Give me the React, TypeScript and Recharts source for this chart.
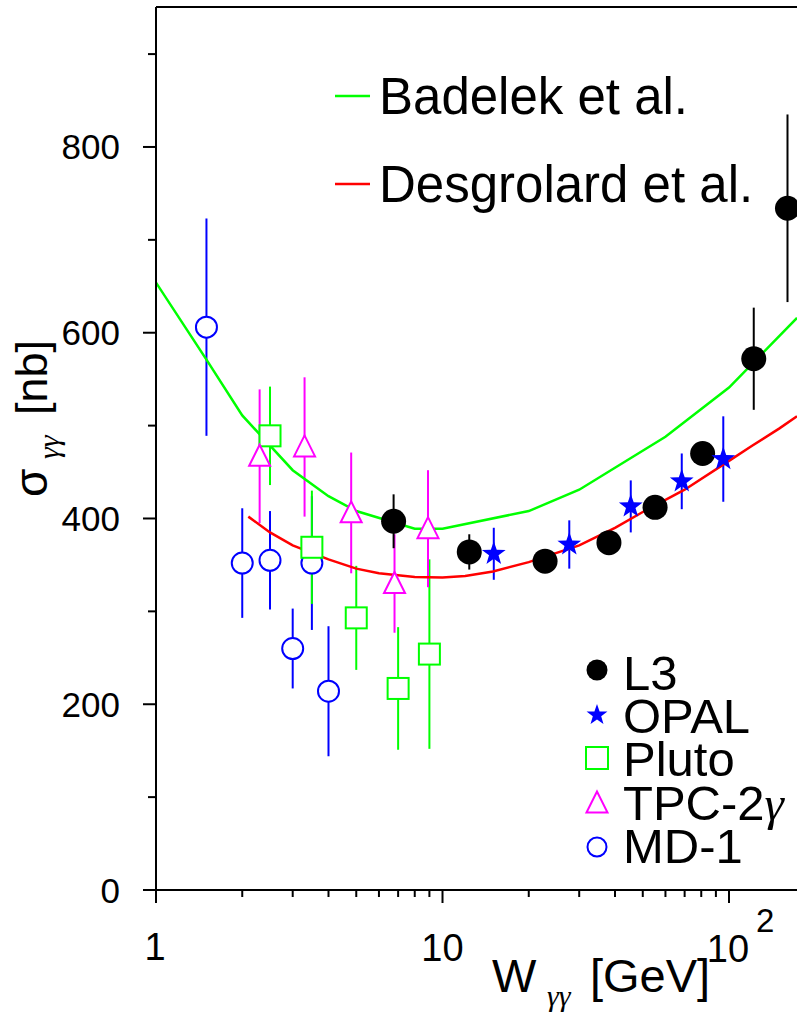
import React from 'react';
import { ComposedChart, Scatter, Line, XAxis, YAxis, ErrorBar, ReferenceLine, Customized } from 'recharts';

// W_gg [GeV], sigma_gg [nb], symmetric errors [nb]
const md1W = [1.5, 2.0, 2.5, 3.0, 3.5, 4.0];
const md1Sigma = [606, 352, 355, 260, 352, 214];
const md1Err = [117, 59, 53, 43, 72, 70];

const plutoW = [2.5, 3.5, 5.0, 7.0, 9.0];
const plutoSigma = [489, 369, 293, 217, 254];
const plutoErr = [53, 61, 56, 66, 102];

const tpcW = [2.3, 3.3, 4.8, 6.8, 8.9];
const tpcSigma = [467, 477, 406, 330, 389];
const tpcErr = [72, 75, 65, 53, 63];

const l3W = [6.75, 12.4, 22.8, 38.1, 55.2, 80.9, 122, 160];
const l3Sigma = [397, 364, 354, 374, 412, 470, 572, 734];
const l3Err = [29, 19, 8, 8, 8, 8, 55, 101];

const opalW = [15.1, 27.7, 45.4, 68.4, 95.5];
const opalSigma = [362, 372, 413, 440, 464];
const opalErr = [28, 26, 28, 30, 46];

// model curves
const badelekW = [1, 1.5, 2, 3, 4, 5, 8, 10, 20, 30, 60, 100, 172.7];
const badelekSigma = [654, 571, 511, 452, 424, 408, 389, 389, 408, 431, 488, 541, 616];

const desgrolardW = [2.1, 2.5, 3, 4, 5, 6, 8, 10, 12, 15, 20, 30, 40, 50, 70, 100, 120, 150, 172.7];
const desgrolardSigma = [402, 385, 371, 356, 346, 341, 337, 336.5, 338, 343, 353, 371, 390, 407, 431, 462, 478, 497, 510];

const xTicks = [1, 2, 3, 4, 5, 6, 7, 8, 9, 10, 20, 30, 40, 50, 60, 70, 80, 90, 100];
const yTicks = [0, 100, 200, 300, 400, 500, 600, 700, 800, 900];
const X_MAX = 172.7;
const Y_MAX = 950.7;

const FONT = '"Liberation Sans", Arial, sans-serif';
const SERIF = '"Liberation Serif", "Times New Roman", serif';

const toPoints = (w: number[], s: number[], e?: number[]) =>
  w.map((x, i) => (e ? { x, y: s[i], err: e[i] } : { x, y: s[i] }));

const md1Data = toPoints(md1W, md1Sigma, md1Err);
const plutoData = toPoints(plutoW, plutoSigma, plutoErr);
const tpcData = toPoints(tpcW, tpcSigma, tpcErr);
const l3Data = toPoints(l3W, l3Sigma, l3Err);
const opalData = toPoints(opalW, opalSigma, opalErr);
const badelekData = toPoints(badelekW, badelekSigma);
const desgrolardData = toPoints(desgrolardW, desgrolardSigma);

const starPoints = (cx: number, cy: number, R: number, r: number) => {
  const pts: string[] = [];
  for (let i = 0; i < 10; i++) {
    const rad = i % 2 === 0 ? R : r;
    const a = -Math.PI / 2 + (i * Math.PI) / 5;
    pts.push(`${cx + rad * Math.cos(a)},${cy + rad * Math.sin(a)}`);
  }
  return pts.join(' ');
};

const triPoints = (cx: number, cy: number, s: number) =>
  `${cx},${cy - s * 0.55} ${cx - s / 2},${cy + s * 0.45} ${cx + s / 2},${cy + s * 0.45}`;

const OpenCircle = (props: any) => (
  <circle cx={props.cx} cy={props.cy} r={10.5} fill="#fff" stroke="#0000ff" strokeWidth={2} />
);
const OpenSquare = (props: any) => (
  <rect x={props.cx - 10.5} y={props.cy - 10.5} width={21} height={21} fill="#fff" stroke="#00ff00" strokeWidth={2} />
);
const OpenTriangle = (props: any) => (
  <polygon points={triPoints(props.cx, props.cy, 21)} fill="#fff" stroke="#ff00ff" strokeWidth={2} />
);
const FullCircle = (props: any) => <circle cx={props.cx} cy={props.cy} r={12.5} fill="#000" />;
const Star = (props: any) => <polygon points={starPoints(props.cx, props.cy, 12.5, 5)} fill="#0000ff" />;

const XTick = (props: any) => {
  const { x, y, payload } = props;
  const v = payload.value;
  const major = v === 1 || v === 10 || v === 100;
  return (
    <g>
      <line x1={x} x2={x} y1={y} y2={y + (major ? 13 : 7)} stroke="#000" strokeWidth={2} />
      {v === 1 && (
        <text x={x - 1} y={y + 70} textAnchor="middle" fontSize={38} fontFamily={FONT} fill="#000">1</text>
      )}
      {v === 10 && (
        <text x={x} y={y + 71} textAnchor="middle" fontSize={38} fontFamily={FONT} fill="#000">10</text>
      )}
      {v === 100 && (
        <g>
          <text x={x - 1} y={y + 72} textAnchor="middle" fontSize={38} fontFamily={FONT} fill="#000">10</text>
          <text x={x + 27} y={y + 42} fontSize={33} fontFamily={FONT} fill="#000">2</text>
        </g>
      )}
    </g>
  );
};

const YTick = (props: any) => {
  const { x, y, payload } = props;
  const v = payload.value;
  const major = v % 200 === 0;
  return (
    <g>
      <line x1={x - (major ? 13 : 8)} x2={x} y1={y} y2={y} stroke="#000" strokeWidth={2} />
      {major && (
        <text x={x - 36} y={y + 12.5} textAnchor="end" fontSize={35} fontFamily={FONT} fill="#000">{v}</text>
      )}
    </g>
  );
};

const Annotations = () => (
  <g fontFamily={FONT} fill="#000">
    {/* model legend */}
    <line x1={335} x2={370} y1={96} y2={96} stroke="#00ff00" strokeWidth={2.5} />
    <text x={379} y={114} fontSize={51}>Badelek et al.</text>
    <line x1={335} x2={370} y1={184} y2={184} stroke="#ff0000" strokeWidth={2.5} />
    <text x={379} y={202} fontSize={51}>Desgrolard et al.</text>

    {/* data legend */}
    <circle cx={597} cy={670} r={10.5} fill="#000" />
    <text x={623} y={690} fontSize={49}>L3</text>
    <polygon points={starPoints(597, 715, 11, 4.4)} fill="#0000ff" />
    <text x={623} y={733} fontSize={49}>OPAL</text>
    <rect x={586} y={747} width={22} height={22} fill="#fff" stroke="#00ff00" strokeWidth={2} />
    <text x={623} y={776} fontSize={49}>Pluto</text>
    <polygon points={triPoints(597, 803, 21)} fill="#fff" stroke="#ff00ff" strokeWidth={2} />
    <text x={623} y={820} fontSize={49}>
      TPC-2<tspan fontFamily={SERIF} fontStyle="italic">γ</tspan>
    </text>
    <circle cx={597} cy={847} r={9.5} fill="#fff" stroke="#0000ff" strokeWidth={2} />
    <text x={623} y={863} fontSize={49}>MD-1</text>

    {/* x axis title */}
    <text x={492} y={992} fontSize={47}>W</text>
    <text x={547} y={1006} fontSize={30} fontFamily={SERIF} fontStyle="italic">γγ</text>
    <text x={590} y={992} fontSize={47}>[GeV]</text>

    {/* y axis title */}
    <g transform="translate(47, 497) rotate(-90)">
      <text x={0} y={0} fontSize={46}>σ</text>
      <text x={38} y={12} fontSize={30} fontFamily={SERIF} fontStyle="italic">γγ</text>
      <text x={82} y={0} fontSize={45}>[nb]</text>
    </g>
  </g>
);

const App: React.FC = () => {
  return (
    <div style={{ position: 'absolute', left: 0, top: 0, background: '#fff' }}>
      <ComposedChart width={797} height={1016} margin={{ top: 7, right: 0, bottom: 96, left: 116 }}>
        <XAxis
          dataKey="x"
          type="number"
          scale="log"
          domain={[1, X_MAX]}
          allowDataOverflow
          ticks={xTicks}
          interval={0}
          height={30}
          tickSize={0}
          tickMargin={0}
          tickLine={false}
          tick={<XTick />}
          axisLine={{ stroke: '#000', strokeWidth: 2 }}
        />
        <YAxis
          dataKey="y"
          type="number"
          domain={[0, Y_MAX]}
          allowDataOverflow
          ticks={yTicks}
          interval={0}
          width={40}
          tickSize={0}
          tickMargin={0}
          tickLine={false}
          tick={<YTick />}
          axisLine={{ stroke: '#000', strokeWidth: 2 }}
        />
        <ReferenceLine y={Y_MAX} stroke="#000" strokeWidth={2} />

        <Scatter data={md1Data} shape={OpenCircle} isAnimationActive={false}>
          <ErrorBar dataKey="err" direction="y" width={0} stroke="#0000ff" strokeWidth={2} />
        </Scatter>
        <Scatter data={plutoData} shape={OpenSquare} isAnimationActive={false}>
          <ErrorBar dataKey="err" direction="y" width={0} stroke="#00ff00" strokeWidth={2} />
        </Scatter>
        <Scatter data={tpcData} shape={OpenTriangle} isAnimationActive={false}>
          <ErrorBar dataKey="err" direction="y" width={0} stroke="#ff00ff" strokeWidth={2} />
        </Scatter>
        <Scatter data={l3Data} shape={FullCircle} isAnimationActive={false}>
          <ErrorBar dataKey="err" direction="y" width={0} stroke="#000" strokeWidth={2} />
        </Scatter>
        <Scatter data={opalData} shape={Star} isAnimationActive={false}>
          <ErrorBar dataKey="err" direction="y" width={0} stroke="#0000ff" strokeWidth={2} />
        </Scatter>

        <Line data={badelekData} dataKey="y" type="linear" stroke="#00ff00" strokeWidth={2.5} dot={false} activeDot={false} isAnimationActive={false} />
        <Line data={desgrolardData} dataKey="y" type="linear" stroke="#ff0000" strokeWidth={2.5} dot={false} activeDot={false} isAnimationActive={false} />

        <Customized component={<Annotations />} />
      </ComposedChart>
    </div>
  );
};

export default App;
